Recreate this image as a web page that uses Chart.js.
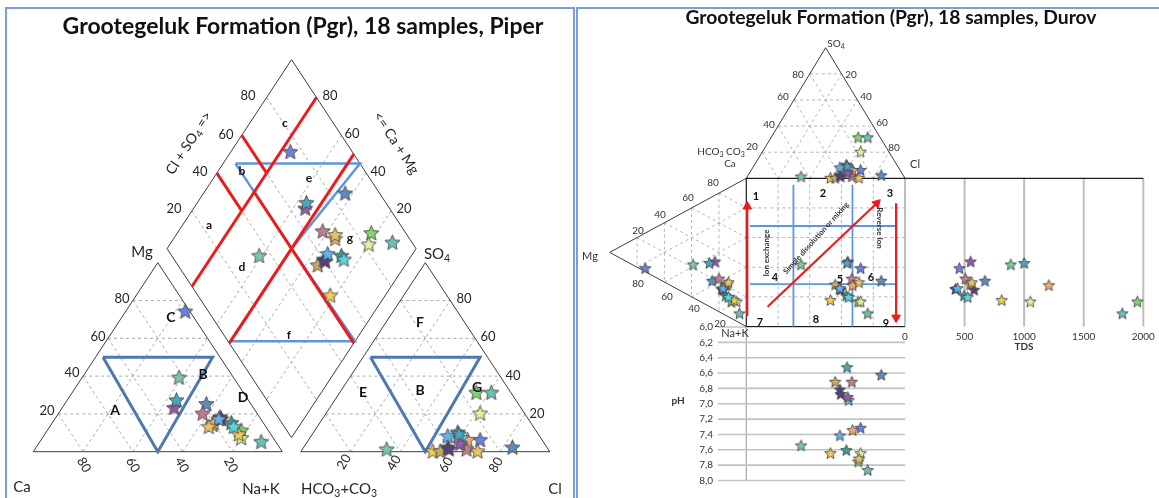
<!DOCTYPE html>
<html>
<head>
<meta charset="utf-8">
<script src="https://cdn.jsdelivr.net/npm/chart.js@4.4.1/dist/chart.umd.min.js"></script>
<style>
body { margin: 0; background: #fff; width: 1159px; height: 498px; overflow: hidden; position: relative; }
.panel { position: absolute; top: 7px; border: 2px solid #78a0d6; box-sizing: border-box; }
#p1 { left: 5px; width: 570px; height: 520px; }
#p2 { left: 576px; width: 600px; height: 520px; }
canvas { position: absolute; top: 0; }
#piper { left: 0; }
#durov { left: 577px; }
</style>
</head>
<body>
<div class="panel" id="p1"></div>
<div class="panel" id="p2"></div>
<canvas id="piper" width="577" height="498"></canvas>
<canvas id="durov" width="582" height="498"></canvas>
<script>
// 18 samples (percent of meq)
const sampleColors = ['#7cc8a2', '#5b8cc0', '#6b82dc', '#82d66e', '#6cc0b8', '#e4eda0',
                      '#f2cc55', '#c27d8e', '#c9aa62', '#f2ad6e', '#3d4c94', '#5e3d7a',
                      '#3c9c92', '#5cd6e2', '#8c5dab', '#4aa6c2', '#62b2ea', '#e9c466'];
const ca   = [22, 18,  2, 11,  6, 13, 13, 22, 21, 20, 16, 16, 13, 13, 32, 29, 17, 23];
const mg   = [39, 25, 74, 11,  5,  7,  9, 20, 14, 15, 18, 17, 15, 13, 23, 27, 17, 13];
const nak  = [39, 57, 24, 78, 89, 80, 78, 58, 65, 65, 66, 67, 72, 74, 45, 44, 66, 64];
const hco3 = [65, 14, 25, 14,  8, 18, 47, 33, 44, 30, 40, 40, 32, 32, 34, 32, 37, 29];
const so4  = [ 1,  2,  6, 31, 31, 20,  0,  1,  0,  6,  2,  1, 10,  7,  4,  9,  8,  0];
const cl   = [34, 84, 69, 55, 61, 62, 53, 66, 56, 64, 58, 59, 58, 61, 62, 59, 55, 71];
const tds  = [888, 671, 456, 1950, 1824, 1052, 812, 507, 546, 1207, 423, 580, 495, 526, 551, 1000, 440, 560];
const ph   = [7.55, 6.63, 7.32, 7.76, 7.87, 7.65, 7.65, 6.72, 6.72, 7.35, 6.82, 6.88, 7.61, 6.96, 6.92, 6.53, 7.42, 7.72];

const gridSteps = [0.2, 0.4, 0.6, 0.8];
const tdsTicks = [0, 500, 1000, 1500, 2000];
const phTicks = [6.0, 6.2, 6.4, 6.6, 6.8, 7.0, 7.2, 7.4, 7.6, 7.8, 8.0];

const RED = '#ea1c1c', BLUE_T = '#4f78ae', BLUE_D = '#5f95da', GRID = '#a3a3a3', EDGE = '#3c3c3c';

function starImage(color, r) {
  const s = Math.ceil(r * 2 + 3);
  const c = document.createElement('canvas');
  c.width = s; c.height = s;
  const g = c.getContext('2d');
  g.beginPath();
  for (let i = 0; i < 10; i++) {
    const rad = i % 2 ? r * 0.45 : r;
    const a = -Math.PI / 2 + i * Math.PI / 5;
    g.lineTo(s / 2 + rad * Math.cos(a), s / 2 + rad * Math.sin(a));
  }
  g.closePath();
  g.fillStyle = color; g.fill();
  g.strokeStyle = '#474747'; g.lineWidth = 0.9; g.stroke();
  return c;
}

// value <-> pixel anchor for a hidden linear scale that fills the canvas
function span(v0, p0, v1, p1, len, axis) {
  const k = (v1 - v0) / (p1 - p0);
  const a = v0 - p0 * k, b = v0 + (len - p0) * k;
  let s;
  if (axis === 'x') s = a < b ? {min: a, max: b, reverse: false} : {min: b, max: a, reverse: true};
  else s = a > b ? {min: b, max: a, reverse: false} : {min: a, max: b, reverse: true};
  return Object.assign({type: 'linear', axis: axis, display: false}, s);
}

function lineDs(pts, xId, yId, color, width, dash, order) {
  return {data: pts, xAxisID: xId, yAxisID: yId, showLine: true, borderColor: color,
          borderWidth: width, borderDash: dash || [], pointRadius: 0, fill: false,
          tension: 0, order: order, clip: false};
}

function starDs(pts, xId, yId, r) {
  return {data: pts, xAxisID: xId, yAxisID: yId, pointStyle: sampleColors.map(c => starImage(c, r)),
          pointRadius: r, order: 0, clip: false};
}

function drawRich(ctx, it, ox) {
  const parts = [];
  const re = /_\{([^}]*)\}/g;
  let last = 0, m;
  while ((m = re.exec(it.t))) {
    if (m.index > last) parts.push({s: it.t.slice(last, m.index), sub: false});
    parts.push({s: m[1], sub: true});
    last = re.lastIndex;
  }
  if (last < it.t.length) parts.push({s: it.t.slice(last), sub: false});
  const size = it.size || 12, w = it.bold ? 'bold ' : '';
  ctx.save();
  ctx.translate(it.x - ox, it.y);
  if (it.rot) ctx.rotate(it.rot * Math.PI / 180);
  let total = 0;
  for (const p of parts) {
    ctx.font = w + (p.sub ? size * 0.7 : size) + 'px Lato, sans-serif';
    p.w = ctx.measureText(p.s).width;
    total += p.w;
  }
  let x = it.align === 'right' ? -total : it.align === 'left' ? 0 : -total / 2;
  ctx.fillStyle = it.color || '#222';
  ctx.textBaseline = 'middle';
  for (const p of parts) {
    ctx.font = w + (p.sub ? size * 0.7 : size) + 'px Lato, sans-serif';
    ctx.fillText(p.s, x, p.sub ? size * 0.28 : 0);
    x += p.w;
  }
  ctx.restore();
}

function textPlugin(items, offset) {
  return {id: 'texts', afterDatasetsDraw(chart) { items.forEach(it => drawRich(chart.ctx, it, offset)); }};
}

function makeChart(id, scales, datasets, texts, offset) {
  return new Chart(document.getElementById(id), {
    type: 'scatter',
    data: {datasets: datasets},
    options: {
      responsive: false, animation: false, events: [],
      layout: {padding: 0, autoPadding: false},
      plugins: {legend: {display: false}, tooltip: {enabled: false}, title: {display: false}},
      scales: scales
    },
    plugins: [textPlugin(texts, offset)]
  });
}

function buildPiper() {
  const G = 18.5 / 249;
  const cat = (c, m, n) => ({x: n + m / 2, y: m});
  const ani = (h, s, c) => ({x: 1 + G + c + s / 2, y: s});
  const dia = (n, h) => { const Y = 2 - h - n + G; return {x: n + Y / 2, y: Y}; };

  const ds = [];
  const idx = sampleColors.map((_, i) => i);
  ds.push(starDs(idx.map(i => cat(ca[i] / 100, mg[i] / 100, nak[i] / 100)), 'x', 'y', 8));
  ds.push(starDs(idx.map(i => ani(hco3[i] / 100, so4[i] / 100, cl[i] / 100)), 'x', 'y', 8));
  ds.push(starDs(idx.map(i => dia(nak[i] / 100, hco3[i] / 100)), 'x', 'y', 8));

  const L = (pts, color, w, dash, order) => ds.push(lineDs(pts, 'x', 'y', color, w, dash, order));
  gridSteps.forEach(v => {
    L([cat(1 - v, v, 0), cat(0, v, 1 - v)], GRID, 0.9, [3, 3], 6);
    L([cat(1 - v, 0, v), cat(0, 1 - v, v)], GRID, 0.9, [3, 3], 6);
    L([cat(v, 1 - v, 0), cat(v, 0, 1 - v)], GRID, 0.9, [3, 3], 6);
    L([ani(1 - v, v, 0), ani(0, v, 1 - v)], GRID, 0.9, [3, 3], 6);
    L([ani(1 - v, 0, v), ani(0, 1 - v, v)], GRID, 0.9, [3, 3], 6);
    L([ani(v, 1 - v, 0), ani(v, 0, 1 - v)], GRID, 0.9, [3, 3], 6);
    L([dia(v, 0), dia(v, 1)], GRID, 0.9, [3, 3], 6);
    L([dia(0, v), dia(1, v)], GRID, 0.9, [3, 3], 6);
  });
  L([cat(1, 0, 0), cat(0, 1, 0), cat(0, 0, 1), cat(1, 0, 0)], EDGE, 1, [], 5);
  L([ani(1, 0, 0), ani(0, 1, 0), ani(0, 0, 1), ani(1, 0, 0)], EDGE, 1, [], 5);
  L([dia(0, 1), dia(0, 0), dia(1, 0), dia(1, 1), dia(0, 1)], EDGE, 1, [], 5);

  // field boundaries
  L([cat(0.47, 0.5, 0.03), cat(0.03, 0.5, 0.47), cat(0.5, 0, 0.5), cat(0.47, 0.5, 0.03)], BLUE_T, 3, [], 3);
  L([ani(0.47, 0.5, 0.03), ani(0.03, 0.5, 0.47), ani(0.5, 0, 0.5), ani(0.47, 0.5, 0.03)], BLUE_T, 3, [], 3);
  L([dia(0.05, 0.5), dia(0.55, 0), dia(0.5, 0.5), dia(0.05, 0.5)], BLUE_D, 2.5, [], 3);
  L([dia(0.5, 0.5), dia(0.5, 0.99), dia(1, 0.49), dia(0.5, 0.5)], BLUE_D, 2.5, [], 3);
  L([dia(0.2, 0), dia(0.2, 1)], RED, 3, [], 2);
  L([dia(0.5, 0), dia(0.5, 1)], RED, 3, [], 2);
  L([dia(0, 0.4), dia(0.2, 0.4)], RED, 3, [], 2);
  L([dia(0, 0.6), dia(0.2, 0.6)], RED, 3, [], 2);
  L([dia(0.2, 0.5), dia(1, 0.5)], RED, 3, [], 2);

  const scales = {x: span(0, 33.3, 1, 282.3, 577, 'x'), y: span(0, 451.7, 1, 262.7, 498, 'y')};

  const T = [];
  const add = (t, x, y, o) => T.push(Object.assign({t: t, x: x, y: y, size: 13, color: '#262626'}, o || {}));
  add('Grootegeluk Formation (Pgr), 18 samples, Piper', 303, 27, {size: 23, bold: true, color: '#111'});
  [['80', 122, 299], ['60', 98, 337], ['40', 72, 373], ['20', 47, 411]].forEach(a => add(a[0], a[1], a[2]));
  [['80', 464, 299], ['60', 488, 337], ['40', 513, 376], ['20', 537, 414]].forEach(a => add(a[0], a[1], a[2]));
  [['80', 84, 465], ['60', 133, 465], ['40', 182, 465], ['20', 231, 465]].forEach(a => add(a[0], a[1], a[2], {rot: 60}));
  [['20', 344, 462], ['40', 394, 463], ['60', 446, 465], ['80', 496, 465]].forEach(a => add(a[0], a[1], a[2], {rot: -60}));
  [['80', 248, 96], ['60', 226, 135], ['40', 200, 172], ['20', 174, 209]].forEach(a => add(a[0], a[1], a[2]));
  [['80', 330, 96], ['60', 352, 134], ['40', 378, 172], ['20', 404, 209]].forEach(a => add(a[0], a[1], a[2]));
  add('Cl + SO_{4} =>', 189, 143, {size: 14, rot: -57});
  add('<= Ca + Mg', 396, 143, {size: 14, rot: 57});
  add('Ca', 22, 487, {size: 15});
  add('Na+K', 261, 489, {size: 15});
  add('HCO_{3}+CO_{3}', 339, 489, {size: 15});
  add('Cl', 555, 489, {size: 15});
  add('Mg', 142, 252, {size: 15});
  add('SO_{4}', 437, 254, {size: 15});
  [['a', 209, 225], ['b', 242, 171], ['c', 285, 123], ['d', 242, 267], ['e', 309, 178], ['f', 289, 335], ['g', 350, 238]]
    .forEach(a => add(a[0], a[1], a[2], {bold: true, size: 12, color: '#111'}));
  [['C', 171, 317], ['B', 203, 374], ['A', 115, 410], ['D', 243, 397], ['F', 420, 322], ['E', 363, 392], ['B', 420, 390], ['G', 477, 387]]
    .forEach(a => add(a[0], a[1], a[2], {bold: true, size: 14, color: '#111'}));

  makeChart('piper', scales, ds, T, 0);
}

function buildDurov() {
  const OX = 577, W = 582, H = 498;
  const top = (h, s, c) => ({x: c + s / 2, y: s});          // xF / yS
  const left = (c, m, n) => ({x: m, y: n + m / 2});         // xM / yF
  const idx = sampleColors.map((_, i) => i);

  const scales = {
    x: span(0, 746.3 - OX, 1, 905 - OX, W, 'x'),
    y: span(0, 178.3, 1, 326.5, H, 'y'),
    yS: span(0, 178.3, 1, 47.7, H, 'y'),
    xM: span(0, 746.3 - OX, 1, 609.7 - OX, W, 'x'),
    xT: span(0, 905 - OX, 2000, 1143.3 - OX, W, 'x'),
    yP: span(6, 327, 8, 480.5, H, 'y')
  };

  const ds = [];
  ds.push(starDs(idx.map(i => top(hco3[i] / 100, so4[i] / 100, cl[i] / 100)), 'x', 'yS', 6));
  ds.push(starDs(idx.map(i => left(ca[i] / 100, mg[i] / 100, nak[i] / 100)), 'xM', 'y', 6));
  ds.push(starDs(idx.map(i => ({x: (cl[i] + so4[i] / 2) / 100, y: (nak[i] + mg[i] / 2) / 100})), 'x', 'y', 6));
  ds.push(starDs(idx.map(i => ({x: tds[i], y: (nak[i] + mg[i] / 2) / 100})), 'xT', 'y', 6));
  ds.push(starDs(idx.map(i => ({x: (cl[i] + so4[i] / 2) / 100, y: ph[i]})), 'x', 'yP', 6));

  const L = (pts, xId, yId, color, w, dash, order) => ds.push(lineDs(pts, xId, yId, color, w, dash, order));
  gridSteps.forEach(v => {
    L([top(1 - v, v, 0), top(0, v, 1 - v)], 'x', 'yS', GRID, 0.8, [3, 3], 6);
    L([top(1 - v, 0, v), top(0, 1 - v, v)], 'x', 'yS', GRID, 0.8, [3, 3], 6);
    L([top(v, 1 - v, 0), top(v, 0, 1 - v)], 'x', 'yS', GRID, 0.8, [3, 3], 6);
    L([left(1 - v, v, 0), left(0, v, 1 - v)], 'xM', 'y', GRID, 0.8, [3, 3], 6);
    L([left(1 - v, 0, v), left(0, 1 - v, v)], 'xM', 'y', GRID, 0.8, [3, 3], 6);
    L([left(v, 1 - v, 0), left(v, 0, 1 - v)], 'xM', 'y', GRID, 0.8, [3, 3], 6);
    L([{x: v, y: 0}, {x: v, y: 1}], 'x', 'y', GRID, 0.8, [3, 3], 6);
    L([{x: 0, y: v}, {x: 1, y: v}], 'x', 'y', GRID, 0.8, [3, 3], 6);
  });
  L([top(1, 0, 0), top(0, 1, 0), top(0, 0, 1)], 'x', 'yS', EDGE, 1, [], 5);
  L([left(1, 0, 0), left(0, 1, 0), left(0, 0, 1)], 'xM', 'y', EDGE, 1, [], 5);
  L([{x: 1, y: 0}, {x: 0, y: 0}, {x: 0, y: 1}, {x: 1, y: 1}], 'x', 'y', '#1e1e1e', 1.2, [], 4);
  L([{x: 0, y: 0}, {x: 2000, y: 0}], 'xT', 'y', '#1e1e1e', 1.2, [], 4);

  tdsTicks.forEach(v => L([{x: v, y: 0}, {x: v, y: 1}], 'xT', 'y', '#bdbdbd', 2, [], 7));
  phTicks.forEach(v => L([{x: -0.18, y: v}, {x: 1, y: v}], 'x', 'yP', '#c2c2c2', 1.6, [], 7));
  L([{x: 0, y: 6.0}, {x: 0, y: 8.0}], 'x', 'yP', '#a8a8a8', 1.2, [], 7);

  // field boundaries of the square
  [0.322, 0.714].forEach(v => L([{x: 0.023, y: v}, {x: 0.937, y: v}], 'x', 'y', BLUE_D, 1.8, [], 3));
  [0.297, 0.669].forEach(v => L([{x: v, y: 0.044}, {x: v, y: 1}], 'x', 'y', BLUE_D, 1.8, [], 3));

  // process arrows
  const arrows = [
    {from: {x: 0.006, y: 0.93}, to: {x: 0.006, y: 0.19}, rot: 0},
    {from: {x: 0.134, y: 0.867}, to: {x: 0.822, y: 0.168}, rot: 45},
    {from: {x: 0.944, y: 0.168}, to: {x: 0.944, y: 0.94}, rot: 180}
  ];
  arrows.forEach(a => L([a.from, a.to], 'x', 'y', RED, 2.2, [], 2));
  ds.push({data: arrows.map(a => a.to), xAxisID: 'x', yAxisID: 'y', pointStyle: 'triangle',
           rotation: arrows.map(a => a.rot), pointRadius: 5, backgroundColor: RED, borderColor: RED,
           borderWidth: 1, order: 1, clip: false});

  const T = [];
  const add = (t, x, y, o) => T.push(Object.assign({t: t, x: x, y: y, size: 10, color: '#333'}, o || {}));
  add('Grootegeluk Formation (Pgr), 18 samples, Durov', 891, 18, {size: 19.3, bold: true, color: '#111'});
  add('SO_{4}', 836, 44, {size: 10});
  [['80', 798, 75], ['60', 783, 97], ['40', 769, 125], ['20', 752, 147]].forEach(a => add(a[0], a[1], a[2]));
  [['20', 851, 75], ['40', 866, 97], ['60', 882, 123], ['80', 894, 148]].forEach(a => add(a[0], a[1], a[2]));
  add('HCO_{3} CO_{3}', 721, 152);
  add('Ca', 730, 164);
  add('Cl', 915, 164, {size: 11});
  [['80', 713, 183], ['60', 688, 198], ['40', 660, 215], ['20', 638, 231]].forEach(a => add(a[0], a[1], a[2]));
  [['80', 638, 284], ['60', 667, 297], ['40', 694, 309], ['20', 720, 324]].forEach(a => add(a[0], a[1], a[2]));
  add('Mg', 590, 256, {size: 11});
  add('Na+K', 735, 333, {size: 11});
  [['1', 756, 196], ['2', 823, 193], ['3', 890, 193], ['4', 775, 277], ['5', 840, 279], ['6', 871, 277],
   ['7', 760, 322], ['8', 816, 319], ['9', 886, 323]].forEach(a => add(a[0], a[1], a[2], {bold: true, size: 11, color: '#111'}));
  add('Ion exchange', 766, 253, {size: 8, bold: true, rot: -90});
  add('Simple dissolution or mixing', 816, 238, {size: 7.5, bold: true, rot: -48});
  add('Reverse Ion', 880, 228, {size: 8, bold: true, rot: 90});
  tdsTicks.forEach(v => add(String(v), 905 + v * 238.3 / 2000, 337));
  add('TDS', 1024, 347, {bold: true, size: 10});
  phTicks.forEach(v => add(v.toFixed(1).replace('.', ','), 713, 327 + (v - 6) * 76.75, {align: 'right'}));
  add('pH', 678, 401, {bold: true, size: 10});

  makeChart('durov', scales, ds, T, OX);
}

function build() { buildPiper(); buildDurov(); }
Promise.all([document.fonts.load('12px Lato'), document.fonts.load('bold 12px Lato')]).then(build, build);
</script>
</body>
</html>
